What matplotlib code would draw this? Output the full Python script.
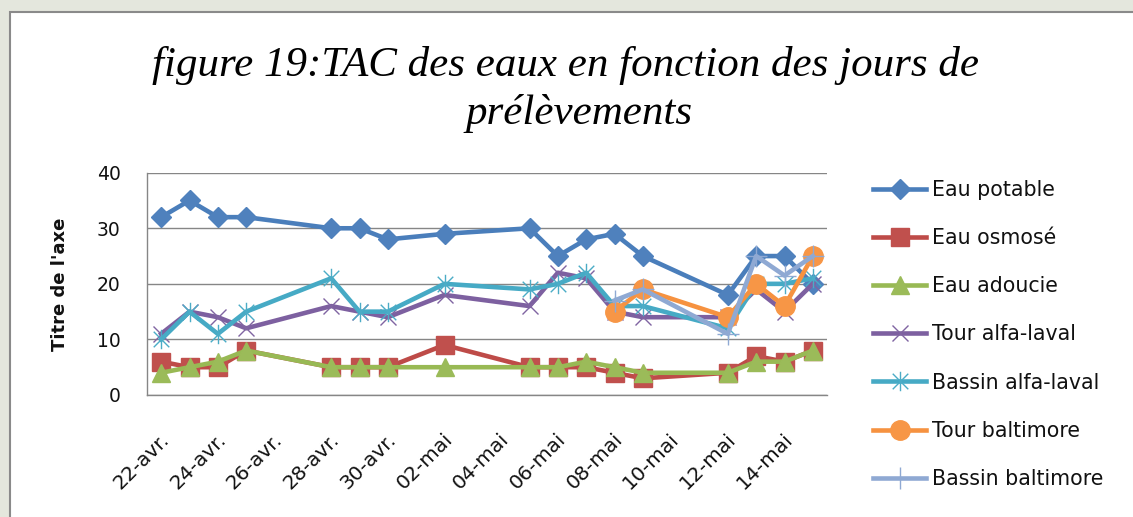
import numpy as np
import pandas as pd
import matplotlib
matplotlib.use("Agg")
import matplotlib.pyplot as plt
from matplotlib.path import Path
from matplotlib.transforms import ScaledTranslation
from matplotlib.patches import Rectangle

# ---------------- data ----------------
dates = ['2013-04-22', '2013-04-23', '2013-04-24', '2013-04-25', '2013-04-28',
         '2013-04-29', '2013-04-30', '2013-05-02', '2013-05-05', '2013-05-06',
         '2013-05-07', '2013-05-08', '2013-05-09', '2013-05-12', '2013-05-13',
         '2013-05-14', '2013-05-15']
nan = np.nan
eau_potable = [32, 35, 32, 32, 30, 30, 28, 29, 30, 25, 28, 29, 25, 18, 25, 25, 20]
eau_osmose = [6, 5, 5, 8, 5, 5, 5, 9, 5, 5, 5, 4, 3, 4, 7, 6, 8]
eau_adoucie = [4, 5, 6, 8, 5, 5, 5, 5, 5, 5, 6, 5, 4, 4, 6, 6, 8]
tour_alfa = [11, 15, 14, 12, 16, 15, 14, 18, 16, 22, 21, 15, 14, 14, 19, 15, 20]
bassin_alfa = [10, 15, 11, 15, 21, 15, 15, 20, 19, 20, 22, 16, 16, 12, 20, 20, 21]
tour_balt = [nan] * 11 + [15, 19, 14, 20, 16, 25]
bassin_balt = [nan] * 11 + [17, 19, 11, 25, 21.5, 25]

series_names = ['Eau potable', 'Eau osmosé', 'Eau adoucie', 'Tour alfa-laval',
                'Bassin alfa-laval', 'Tour baltimore', 'Bassin baltimore']
tick_dates = ['2013-04-22', '2013-04-24', '2013-04-26', '2013-04-28', '2013-04-30',
              '2013-05-02', '2013-05-04', '2013-05-06', '2013-05-08', '2013-05-10',
              '2013-05-12', '2013-05-14']
tick_labels = ['22-avr.', '24-avr.', '26-avr.', '28-avr.', '30-avr.', '02-mai',
               '04-mai', '06-mai', '08-mai', '10-mai', '12-mai', '14-mai']
y_ticks = [0, 10, 20, 30, 40]
title_line1 = 'figure 19:TAC des eaux en fonction des jours de'
title_line2 = 'prélèvements'
y_label = "Titre de l'axe"

# ---------------- figure ----------------
W, H = 1133, 517
fig = plt.figure(figsize=(W / 100, H / 100), dpi=100)
fig.patch.set_facecolor('#e4e7dd')
# chart area (white with grey border)
fig.patches.append(Rectangle((10 / W, -0.01), 1.2, 1 - 12 / H + 0.01,
                             transform=fig.transFigure, facecolor='white',
                             edgecolor='#8a8a8a', linewidth=1.5, zorder=-5))

ax_l, ax_r, ax_t, ax_b = 147, 827, 172.7, 395
ax = fig.add_axes([ax_l / W, 1 - ax_b / H, (ax_r - ax_l) / W, (ax_b - ax_t) / H])
ax.set_facecolor('none')

x = pd.to_datetime(dates)

ast_verts = [(-1, -1), (1, 1), (-1, 1), (1, -1), (0, -1.25), (0, 1.25)]
ast_codes = [Path.MOVETO, Path.LINETO] * 3
asterisk = Path(ast_verts, ast_codes)

lw = 3.3
styles = [
    dict(color='#4a7ebb', marker='D', ms=10.5, mfc='#4f81bd', mec='#4f81bd'),
    dict(color='#be4b48', marker='s', ms=13, mfc='#c0504d', mec='#c0504d'),
    dict(color='#98b954', marker='^', ms=13, mfc='#9bbb59', mec='#9bbb59'),
    dict(color='#7d60a0', marker='x', ms=12, mfc='#8064a2', mec='#8064a2', mew=1.0),
    dict(color='#46aac5', marker=asterisk, ms=14, mfc='#4bacc6', mec='#4bacc6', mew=1.0),
    dict(color='#f69240', marker='o', ms=14, mfc='#f79646', mec='#f79646'),
    dict(color='#8fa9d3', marker='+', ms=16, mfc='#8fa9d3', mec='#8fa9d3', mew=1.0),
]
all_series = [eau_potable, eau_osmose, eau_adoucie, tour_alfa, bassin_alfa,
              tour_balt, bassin_balt]
handles = []
for name, vals, st in zip(series_names, all_series, styles):
    h, = ax.plot(x, vals, lw=lw, label=name, solid_joinstyle='round', **st)
    handles.append(h)

# axes styling
ax.set_ylim(0, 40)
ax.set_yticks(y_ticks)
x0 = pd.Timestamp(dates[0]) - pd.Timedelta(hours=12)
x1 = pd.Timestamp(dates[-1]) + pd.Timedelta(hours=12)
ax.set_xlim(x0, x1)
ax.set_xticks(pd.to_datetime(tick_dates))
ax.set_xticklabels(tick_labels)
ax.grid(axis='y', color='#868686', lw=1.0)
ax.set_axisbelow(True)
for s in ['top', 'right']:
    ax.spines[s].set_visible(False)
for s in ['left', 'bottom']:
    ax.spines[s].set_color('#868686')
    ax.spines[s].set_linewidth(1.0)

ax.tick_params(axis='y', length=0, pad=19, labelsize=13.5, labelcolor='#111111')
ax.tick_params(axis='x', length=0, pad=30, labelsize=14.5, labelcolor='#111111')
for lab in ax.get_xticklabels():
    lab.set_rotation(45)
    lab.set_rotation_mode('anchor')
    lab.set_ha('right')
    lab.set_va('center')
    lab.set_transform(lab.get_transform() + ScaledTranslation(5 / 100, 0, fig.dpi_scale_trans))

# y label
fig.text(60 / W, 1 - 284 / H, y_label, rotation=90, ha='center', va='center',
         fontsize=13, fontweight='bold', color='#111111')

# title
tfont = dict(family='Liberation Serif', style='italic', fontsize=31, color='black')
fig.text(565 / W, 1 - 76 / H, title_line1, ha='center', va='baseline', **tfont)
fig.text(579 / W, 1 - 124 / H, title_line2, ha='center', va='baseline', **tfont)

# legend
leg = fig.legend(handles=handles, labels=series_names, loc='upper left',
                 bbox_to_anchor=(873 / W, 1 - 180 / H), frameon=False,
                 fontsize=14.8, handlelength=2.6, handletextpad=0.25,
                 labelspacing=1.37, numpoints=1, borderpad=0, borderaxespad=0)
for t in leg.get_texts():
    t.set_color('#111111')

fig.savefig('out.png', dpi=100, facecolor=fig.get_facecolor())
